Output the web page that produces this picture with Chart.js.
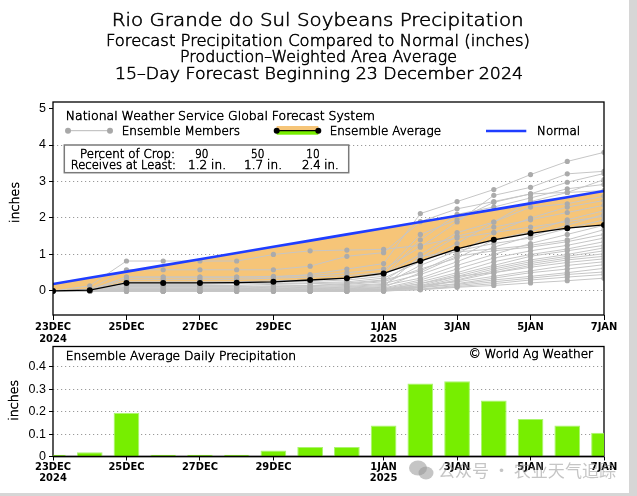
<!DOCTYPE html>
<html>
<head>
<meta charset="utf-8">
<title>Rio Grande do Sul Soybeans Precipitation</title>
<style>
  * { margin: 0; padding: 0; box-sizing: border-box; }
  body { width: 637px; height: 496px; background: #fff; position: relative; overflow: hidden; }
  #cumCanvas { position: absolute; left: 0; top: 0; }
  #dailyCanvas { position: absolute; left: 0; top: 336px; }
  .edge { position: absolute; background: #d6d6d6; }
</style>
</head>
<body>
<canvas id="cumCanvas" width="637" height="350"></canvas>
<canvas id="dailyCanvas" width="637" height="160"></canvas>
<div class="edge" style="left:629px;top:0;width:8px;height:496px"></div>
<div class="edge" style="left:0;top:493px;width:637px;height:3px"></div>
<script src="https://cdn.jsdelivr.net/npm/chart.js"></script>
<script>
// days of the forecast, 23DEC .. 7JAN
const days = ['23DEC','24DEC','25DEC','26DEC','27DEC','28DEC','29DEC','30DEC',
              '31DEC','1JAN','2JAN','3JAN','4JAN','5JAN','6JAN','7JAN'];
const tickDays = [0, 2, 4, 6, 9, 11, 13, 15];
const tickLabels = [['23DEC','2024'], '25DEC', '27DEC', '29DEC', ['1JAN','2025'], '3JAN', '5JAN', '7JAN'];
const yTicksCum = [0, 1, 2, 3, 4, 5];
const yTicksDaily = [0, 0.1, 0.2, 0.3, 0.4];

// cumulative precipitation (inches)
const normal = [0.19, 0.36, 0.53, 0.70, 0.87, 1.04, 1.21, 1.38, 1.55, 1.72, 1.89, 2.06, 2.23, 2.40, 2.57, 2.74];
const ensAvg = [0, 0.02, 0.22, 0.22, 0.22, 0.225, 0.25, 0.30, 0.35, 0.48, 0.82, 1.15, 1.40, 1.58, 1.72, 1.81];

// ensemble members (cumulative, inches)
const members = [
  [0, 0.14, 0.82, 0.82, 0.82, 0.82, 1.00, 1.10, 1.12, 1.14, 1.25, 1.45, 1.60, 1.75, 1.90, 2.05],
  [0, 0.05, 0.58, 0.58, 0.58, 0.58, 0.58, 0.68, 0.95, 1.05, 1.90, 2.25, 2.45, 2.66, 2.70, 2.75],
  [0, 0.02, 0.38, 0.38, 0.38, 0.38, 0.38, 0.45, 0.60, 0.75, 2.12, 2.45, 2.78, 3.19, 3.55, 3.80],
  [0, 0.03, 0.38, 0.38, 0.38, 0.38, 0.40, 0.42, 0.50, 0.60, 1.20, 1.89, 2.62, 2.84, 3.21, 3.28],
  [0, 0.01, 0.32, 0.32, 0.32, 0.32, 0.35, 0.38, 0.42, 0.50, 1.55, 1.95, 2.43, 2.66, 2.98, 3.22],
  [0, 0.00, 0.25, 0.25, 0.25, 0.25, 0.28, 0.30, 0.35, 0.45, 1.00, 1.60, 1.89, 2.45, 2.70, 3.05],
  [0, 0.02, 0.22, 0.22, 0.22, 0.22, 0.24, 0.26, 0.30, 0.40, 1.40, 2.10, 2.30, 2.55, 2.80, 2.92],
  [0, 0.00, 0.18, 0.18, 0.18, 0.20, 0.20, 0.22, 0.25, 0.35, 0.80, 1.30, 1.89, 2.30, 2.39, 2.60],
  [0, 0.01, 0.15, 0.15, 0.15, 0.15, 0.18, 0.20, 0.22, 0.30, 0.55, 1.00, 1.60, 2.00, 2.30, 2.48],
  [0, 0.00, 0.12, 0.12, 0.12, 0.12, 0.14, 0.15, 0.20, 0.28, 0.90, 1.50, 1.75, 1.95, 2.15, 2.35],
  [0, 0.00, 0.10, 0.10, 0.10, 0.10, 0.12, 0.14, 0.18, 0.25, 0.60, 0.90, 1.40, 1.62, 1.95, 2.20],
  [0, 0.00, 0.08, 0.08, 0.08, 0.08, 0.10, 0.12, 0.15, 0.20, 0.45, 0.80, 1.20, 1.50, 1.80, 2.10],
  [0, 0.00, 0.06, 0.06, 0.06, 0.06, 0.08, 0.10, 0.12, 0.18, 0.70, 1.10, 1.30, 1.45, 1.71, 1.95],
  [0, 0.00, 0.05, 0.05, 0.05, 0.05, 0.06, 0.08, 0.10, 0.15, 0.35, 0.70, 1.00, 1.30, 1.55, 1.80],
  [0, 0.00, 0.04, 0.04, 0.04, 0.04, 0.05, 0.06, 0.08, 0.12, 0.95, 1.07, 1.15, 1.25, 1.40, 1.68],
  [0, 0.00, 0.03, 0.03, 0.03, 0.03, 0.04, 0.05, 0.06, 0.10, 0.50, 0.95, 1.10, 1.20, 1.35, 1.55],
  [0, 0.00, 0.02, 0.02, 0.02, 0.02, 0.03, 0.04, 0.05, 0.08, 0.30, 0.60, 0.90, 1.10, 1.25, 1.45],
  [0, 0.00, 0.02, 0.02, 0.02, 0.02, 0.02, 0.03, 0.04, 0.06, 0.25, 0.50, 0.80, 1.00, 1.15, 1.35],
  [0, 0.00, 0.01, 0.01, 0.01, 0.01, 0.02, 0.02, 0.03, 0.05, 0.20, 0.45, 0.70, 0.95, 1.10, 1.25],
  [0, 0.00, 0.01, 0.01, 0.01, 0.01, 0.01, 0.02, 0.03, 0.04, 0.15, 0.40, 0.65, 0.85, 1.00, 1.18],
  [0, 0.00, 0.00, 0.00, 0.00, 0.00, 0.01, 0.01, 0.02, 0.03, 0.12, 0.35, 0.60, 0.80, 0.95, 1.10],
  [0, 0.00, 0.00, 0.00, 0.00, 0.00, 0.00, 0.01, 0.02, 0.03, 0.10, 0.30, 0.55, 0.75, 0.90, 1.02],
  [0, 0.00, 0.00, 0.00, 0.00, 0.00, 0.00, 0.00, 0.01, 0.02, 0.09, 0.28, 0.50, 0.70, 0.85, 0.95],
  [0, 0.00, 0.00, 0.00, 0.00, 0.00, 0.00, 0.00, 0.00, 0.02, 0.20, 0.40, 0.50, 0.65, 0.78, 0.88],
  [0, 0.00, 0.00, 0.00, 0.00, 0.00, 0.00, 0.00, 0.00, 0.01, 0.15, 0.25, 0.40, 0.55, 0.70, 0.80],
  [0, 0.00, 0.00, 0.00, 0.00, 0.00, 0.00, 0.00, 0.00, 0.01, 0.10, 0.20, 0.35, 0.50, 0.60, 0.72],
  [0, 0.00, 0.00, 0.00, 0.00, 0.00, 0.00, 0.00, 0.00, 0.00, 0.09, 0.18, 0.30, 0.40, 0.50, 0.62],
  [0, 0.00, 0.00, 0.00, 0.00, 0.00, 0.00, 0.00, 0.00, 0.00, 0.05, 0.15, 0.25, 0.35, 0.45, 0.52],
  [0, 0.00, 0.00, 0.00, 0.00, 0.00, 0.00, 0.00, 0.00, 0.00, 0.04, 0.12, 0.20, 0.30, 0.38, 0.45],
  [0, 0.00, 0.00, 0.00, 0.00, 0.00, 0.00, 0.00, 0.00, 0.00, 0.03, 0.10, 0.15, 0.22, 0.28, 0.35]
];

// ensemble average daily precipitation (inches)
const dailyPrecip = [0.008, 0.019, 0.195, 0.008, 0.008, 0.008, 0.027, 0.042, 0.042, 0.138, 0.325, 0.335, 0.25, 0.167, 0.138, 0.106];

const TXT = '"DejaVu Sans", sans-serif';
const TICK = '"Liberation Sans", Arial, sans-serif';
const NARROW = '"Liberation Sans Narrow", "Arial Narrow", "DejaVu Sans Condensed", sans-serif';
const ORANGE = 'rgb(246,197,120)';
const GREEN = '#77ee00';

const xy = arr => arr.map((v, i) => ({ x: i, y: v }));

// draw text stretched/squeezed to a given width (thin font, slightly thickened)
function fitText(c, str, left, base, width, size, family) {
  c.font = (family ? '' : '200 ') + size + 'px ' + (family || TXT);
  const w = c.measureText(str).width;
  c.save();
  c.translate(left, base);
  c.scale(width / w, 1);
  c.textAlign = 'left';
  c.textBaseline = 'alphabetic';
  c.fillText(str, 0, 0);
  if (!family) {
    c.strokeStyle = c.fillStyle;
    c.lineWidth = 0.55;
    c.strokeText(str, 0, 0);
  }
  c.restore();
}

function frameRect(chart) {
  const a = chart.chartArea, c = chart.ctx;
  c.save();
  c.strokeStyle = '#000';
  c.lineWidth = 1.3;
  c.strokeRect(a.left, a.top, a.right - a.left, a.bottom - a.top);
  c.restore();
}

const cumFrame = { id: 'cumFrame', afterDatasetsDraw: chart => frameRect(chart) };

const cumText = {
  id: 'cumText',
  afterDraw(chart) {
    const c = chart.ctx;
    c.save();
    c.fillStyle = '#000';
    fitText(c, 'Rio Grande do Sul Soybeans Precipitation', 111.7, 26, 412, 17.5);
    fitText(c, 'Forecast Precipitation Compared to Normal (inches)', 106, 45.7, 424, 15.5);
    fitText(c, 'Production\u2013Weighted Area Average', 180, 62.3, 277, 15.5);
    fitText(c, '15\u2013Day Forecast Beginning 23 December 2024', 115, 79, 408, 15.5);

    // legend
    fitText(c, 'National Weather Service Global Forecast System', 65.7, 120, 309.3, 12.3);
    c.strokeStyle = '#b8b8b8'; c.lineWidth = 1;
    c.beginPath(); c.moveTo(68, 130.7); c.lineTo(110, 130.7); c.stroke();
    c.fillStyle = '#a8a8a8';
    [68, 110].forEach(x => { c.beginPath(); c.arc(x, 130.7, 3, 0, Math.PI * 2); c.fill(); });
    c.fillStyle = '#000';
    fitText(c, 'Ensemble Members', 121.7, 135, 118.3, 12.3);

    c.fillStyle = ORANGE; c.fillRect(276.7, 126, 41.6, 4.7);
    c.fillStyle = GREEN; c.fillRect(276.7, 130.7, 41.6, 4);
    c.strokeStyle = '#000'; c.lineWidth = 1.3;
    c.beginPath(); c.moveTo(276.7, 130.7); c.lineTo(318.3, 130.7); c.stroke();
    c.fillStyle = '#000';
    [276.7, 318.3].forEach(x => { c.beginPath(); c.arc(x, 130.7, 3, 0, Math.PI * 2); c.fill(); });
    fitText(c, 'Ensemble Average', 329.7, 135, 111.3, 12.3);

    c.strokeStyle = '#1f3dff'; c.lineWidth = 2.6;
    c.beginPath(); c.moveTo(486, 131); c.lineTo(526.3, 131); c.stroke();
    fitText(c, 'Normal', 537, 135, 43, 12.3);

    // crop box
    c.fillStyle = '#fff';
    c.fillRect(64.3, 145, 284.4, 27.7);
    c.strokeStyle = '#7a7a7a'; c.lineWidth = 1.5;
    c.strokeRect(64.3, 145, 284.4, 27.7);
    c.fillStyle = '#000';
    fitText(c, 'Percent of Crop:', 80, 158.3, 95, 12);
    fitText(c, '90', 195, 158.3, 13.3, 12);
    fitText(c, '50', 251, 158.3, 13.3, 12);
    fitText(c, '10', 306.3, 158.3, 13.3, 12);
    fitText(c, 'Receives at Least:', 70.7, 169, 105.3, 12);
    fitText(c, '1.2 in.', 188, 169, 38, 12);
    fitText(c, '1.7 in.', 244, 169, 38, 12);
    fitText(c, '2.4 in.', 302, 169, 36.7, 12);

    // y axis title
    c.translate(19, 223);
    c.rotate(-Math.PI / 2);
    fitText(c, 'inches', 0, 0, 41, 13);
    c.restore();
  }
};

const memberSets = members.map(m => ({
  data: xy(m),
  borderColor: '#c6c6c6',
  borderWidth: 1,
  pointRadius: 2.6,
  pointBackgroundColor: '#ababab',
  pointBorderWidth: 0,
  fill: false,
  clip: 0
}));

new Chart(document.getElementById('cumCanvas'), {
  type: 'line',
  data: {
    datasets: [
      {
        data: xy(ensAvg),
        borderColor: '#000',
        borderWidth: 1.3,
        pointRadius: 3,
        pointBackgroundColor: '#000',
        pointBorderWidth: 0,
        fill: { target: 1, above: GREEN, below: ORANGE },
        clip: 0
      },
      {
        data: xy(normal),
        borderColor: '#1f3dff',
        borderWidth: 2.6,
        pointRadius: 0,
        fill: false,
        clip: 0
      },
      ...memberSets
    ]
  },
  options: {
    responsive: false,
    animation: false,
    devicePixelRatio: 1,
    layout: { padding: { top: 102, right: 33, bottom: 0, left: 0 } },
    scales: {
      x: {
        type: 'linear', min: 0, max: 15,
        afterBuildTicks: s => { s.ticks = tickDays.map(v => ({ value: v })); },
        afterFit: s => { s.height = 35; },
        ticks: {
          callback: (v, i) => tickLabels[i],
          font: { family: NARROW, size: 11, weight: 'bold', lineHeight: 1.1 },
          color: '#000', padding: 1, maxRotation: 0, autoSkip: false
        },
        grid: { drawOnChartArea: false, tickColor: '#000', tickLength: 5 },
        border: { display: false }
      },
      y: {
        min: -0.66, max: 5.18,
        afterBuildTicks: s => { s.ticks = yTicksCum.map(v => ({ value: v })); },
        afterFit: s => { s.width = 53; },
        ticks: { font: { family: TICK, size: 12.5 }, color: '#000', padding: 3 },
        grid: {
          color: ctx => (ctx.tick && ctx.tick.value === 5) ? 'rgba(0,0,0,0)' : '#9a9a9a',
          tickColor: '#000', tickLength: 4, lineWidth: 1
        },
        border: { display: false, dash: [1.2, 2.8] }
      }
    },
    plugins: {
      legend: { display: false },
      tooltip: { enabled: false },
      filler: { drawTime: 'beforeDatasetsDraw' }
    }
  },
  plugins: [cumFrame, cumText]
});

// ---- daily chart ----
const OFF = 336;

const dailyFrame = {
  id: 'dailyFrame',
  beforeDatasetsDraw: chart => frameRect(chart),
  afterDatasetsDraw(chart) {
    const a = chart.chartArea, c = chart.ctx;
    c.save();
    c.strokeStyle = '#000'; c.lineWidth = 1.3;
    c.beginPath(); c.moveTo(a.left, a.bottom); c.lineTo(a.right, a.bottom); c.stroke();
    c.restore();
  }
};

const dailyText = {
  id: 'dailyText',
  afterDraw(chart) {
    const c = chart.ctx;
    c.save();
    c.fillStyle = '#000';
    fitText(c, 'Ensemble Average Daily Precipitation', 65.7, 360 - OFF, 230.3, 12.3);
    fitText(c, '\u00a9 World Ag Weather', 468.7, 358.3 - OFF, 124.3, 12.3);

    // watermark
    c.fillStyle = 'rgba(150,150,150,0.55)';
    c.beginPath(); c.ellipse(418, 468 - OFF, 9, 7.5, 0, 0, Math.PI * 2); c.fill();
    c.beginPath(); c.ellipse(426, 473 - OFF, 7.5, 6.5, 0, 0, Math.PI * 2); c.fill();
    fitText(c, '\u516c\u4f17\u53f7 \u00b7 \u519c\u4e1a\u5929\u6c14\u8ffd\u8e2a', 438, 477 - OFF, 178, 17,
            '"Noto Sans CJK SC", sans-serif');

    c.fillStyle = '#000';
    c.translate(18, 420.7 - OFF);
    c.rotate(-Math.PI / 2);
    fitText(c, 'inches', 0, 0, 40.7, 13);
    c.restore();
  }
};

new Chart(document.getElementById('dailyCanvas'), {
  type: 'bar',
  data: {
    datasets: [{
      data: xy(dailyPrecip),
      backgroundColor: GREEN,
      borderColor: 'rgb(170,245,110)',
      borderWidth: 1,
      barPercentage: 0.7,
      categoryPercentage: 1,
      clip: 0
    }]
  },
  options: {
    responsive: false,
    animation: false,
    devicePixelRatio: 1,
    layout: { padding: { top: 8, right: 33, bottom: 0, left: 0 } },
    scales: {
      x: {
        type: 'linear', min: 0, max: 15, offset: false,
        afterBuildTicks: s => { s.ticks = tickDays.map(v => ({ value: v })); },
        afterFit: s => { s.height = 39.5; },
        ticks: {
          callback: (v, i) => tickLabels[i],
          font: { family: NARROW, size: 11, weight: 'bold', lineHeight: 1.0 },
          color: '#000', padding: 1, maxRotation: 0, autoSkip: false
        },
        grid: { offset: false, drawOnChartArea: false, tickColor: '#000', tickLength: 4 },
        border: { display: false }
      },
      y: {
        min: 0, max: 0.49,
        afterBuildTicks: s => { s.ticks = yTicksDaily.map(v => ({ value: v })); },
        afterFit: s => { s.width = 53; },
        ticks: {
          callback: v => v === 0 ? '0' : v.toFixed(1),
          font: { family: TICK, size: 12.5 }, color: '#000', padding: 3
        },
        grid: {
          color: ctx => (ctx.tick && ctx.tick.value === 0) ? 'rgba(0,0,0,0)' : '#9a9a9a',
          tickColor: '#000', tickLength: 4, lineWidth: 1
        },
        border: { display: false, dash: [1.2, 2.8] }
      }
    },
    plugins: {
      legend: { display: false },
      tooltip: { enabled: false }
    }
  },
  plugins: [dailyFrame, dailyText]
});
</script>
</body>
</html>
